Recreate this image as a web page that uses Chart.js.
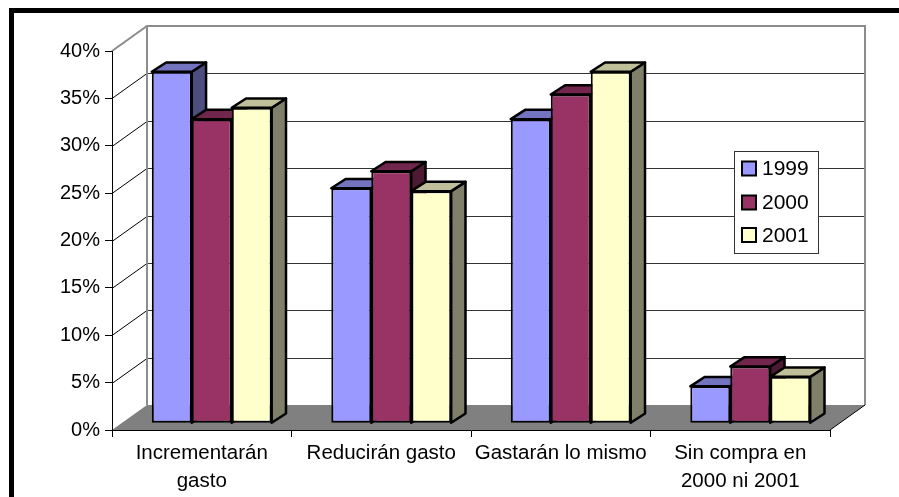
<!DOCTYPE html>
<html>
<head>
<meta charset="utf-8">
<script src="https://cdn.jsdelivr.net/npm/chart.js@4/dist/chart.umd.min.js"></script>
<style>
  html, body { margin: 0; padding: 0; background: #fff; }
  canvas { display: block; }
</style>
</head>
<body>
<canvas id="c" width="899" height="497"></canvas>
<script>
// Categories and yearly shares (percent)
const categories = [['Incrementarán', 'gasto'], 'Reducirán gasto', 'Gastarán lo mismo', ['Sin compra en', '2000 ni 2001']];
const years = ['1999', '2000', '2001'];
const values1999 = [37.1, 24.8, 32.1, 3.9];
const values2000 = [32.1, 26.6, 34.7, 6.0];
const values2001 = [33.3, 24.5, 37.1, 4.9];
const yTicks = [0, 5, 10, 15, 20, 25, 30, 35, 40];

// Face colours: front, top, side
const frontColors = ['#9999FF', '#993366', '#FFFFCC'];
const topColors = ['#7373BF', '#73264D', '#BFBF99'];
const sideColors = ['#4D4D80', '#4D1A33', '#80806A'];

const FONT = "'Liberation Sans', Arial, sans-serif";
const WALL = { dx: 35, dy: -25 };      // depth of the floor / back wall
const BAR_PLANE = { dx: 10, dy: -6.7 }; // where the bar fronts sit in depth
const BAR_DEPTH = { dx: 14.3, dy: -9.3 };

const seriesValues = [values1999, values2000, values2001];

function poly(ctx, pts, fill, stroke, lw) {
  ctx.beginPath();
  ctx.moveTo(pts[0][0], pts[0][1]);
  for (let i = 1; i < pts.length; i++) ctx.lineTo(pts[i][0], pts[i][1]);
  ctx.closePath();
  if (fill) { ctx.fillStyle = fill; ctx.fill(); }
  if (stroke) { ctx.strokeStyle = stroke; ctx.lineWidth = lw; ctx.stroke(); }
}

// Floor, walls and gridlines behind the bars
const wallsPlugin = {
  id: 'walls',
  beforeDraw(chart) {
    const { ctx, chartArea: a, scales: { y } } = chart;
    ctx.save();
    ctx.fillStyle = '#fff';
    ctx.fillRect(0, 0, chart.width, chart.height);

    // floor
    poly(ctx, [[a.left, a.bottom], [a.left + WALL.dx, a.bottom + WALL.dy],
               [a.right + WALL.dx, a.bottom + WALL.dy], [a.right, a.bottom]], '#808080');

    // gridlines on the side wall and the back wall
    ctx.lineWidth = 1;
    y.ticks.forEach(t => {
      if (t.value <= 0 || t.value >= 40) return;
      const py = Math.round(y.getPixelForValue(t.value)) + 0.5;
      ctx.strokeStyle = '#000';
      ctx.beginPath();
      ctx.moveTo(a.left, py);
      ctx.lineTo(a.left + WALL.dx, py + WALL.dy);
      ctx.stroke();
      ctx.strokeStyle = '#333';
      ctx.beginPath();
      ctx.moveTo(a.left + WALL.dx, py + WALL.dy);
      ctx.lineTo(a.right + WALL.dx, py + WALL.dy);
      ctx.stroke();
    });

    // back wall outline
    const topY = y.getPixelForValue(40);
    ctx.strokeStyle = '#8c8c8c';
    ctx.lineWidth = 2;
    ctx.beginPath();
    ctx.moveTo(a.left, topY);
    ctx.lineTo(a.left + WALL.dx, topY + WALL.dy);
    ctx.lineTo(a.right + WALL.dx, topY + WALL.dy);
    ctx.lineTo(a.right + WALL.dx, a.bottom + WALL.dy);
    ctx.moveTo(a.left + WALL.dx, topY + WALL.dy);
    ctx.lineTo(a.left + WALL.dx, a.bottom + WALL.dy);
    ctx.stroke();

    // right edge of the floor
    ctx.strokeStyle = '#000';
    ctx.lineWidth = 1;
    ctx.beginPath();
    ctx.moveTo(a.right, a.bottom);
    ctx.lineTo(a.right + WALL.dx, a.bottom + WALL.dy);
    ctx.stroke();
    ctx.restore();
  }
};

// Bars as boxes: each series is painted left to right (side, top, then the
// library's own front rectangle) so nearer faces cover the hidden ones.
const boxesPlugin = {
  id: 'boxes',
  beforeDatasetsDraw(chart) {
    const ctx = chart.ctx;
    ctx.save();
    ctx.translate(BAR_PLANE.dx, BAR_PLANE.dy);
    ctx.lineJoin = 'round';
    chart.data.datasets.forEach((ds, i) => {
      const meta = chart.getDatasetMeta(i);
      if (!meta.visible) return;
      meta.data.forEach(bar => {
        const { x, y, base, width } = bar.getProps(['x', 'y', 'base', 'width'], true);
        const l = x - width / 2, r = x + width / 2;
        const { dx, dy } = BAR_DEPTH;
        poly(ctx, [[r, y], [r + dx, y + dy], [r + dx, base + dy], [r, base]], sideColors[i], '#000', 2.5);
        poly(ctx, [[l, y], [l + dx, y + dy], [r + dx, y + dy], [r, y]], topColors[i], '#000', 2.5);
        bar.draw(ctx);
      });
    });
    ctx.restore();
  },
  // fronts are already painted above
  beforeDatasetDraw() { return false; }
};

// Legend box and the outer frame
const legendFramePlugin = {
  id: 'legendFrame',
  afterDraw(chart) {
    const ctx = chart.ctx;
    ctx.save();
    const bx = 734.5, by = 151.5, bw = 84, bh = 102;
    ctx.fillStyle = '#fff';
    ctx.fillRect(bx, by, bw, bh);
    ctx.strokeStyle = '#333';
    ctx.lineWidth = 1;
    ctx.strokeRect(bx, by, bw, bh);
    const rows = [168.5, 202.5, 235];
    ctx.font = '21px ' + FONT;
    ctx.textBaseline = 'middle';
    ctx.textAlign = 'left';
    chart.data.datasets.forEach((ds, i) => {
      const cy = rows[i];
      ctx.fillStyle = frontColors[i];
      ctx.fillRect(742, cy - 7, 14, 14);
      ctx.strokeStyle = '#000';
      ctx.lineWidth = 2;
      ctx.strokeRect(742, cy - 7, 14, 14);
      ctx.fillStyle = '#000';
      ctx.fillText(ds.label, 762, cy + 1);
    });
    ctx.fillStyle = '#000';
    ctx.fillRect(9, 8, chart.width - 9, 5);
    ctx.fillRect(9, 8, 5, chart.height - 8);
    ctx.restore();
  }
};

Chart.defaults.font.family = FONT;
Chart.defaults.color = '#000';

new Chart(document.getElementById('c'), {
  type: 'bar',
  data: {
    labels: categories,
    datasets: years.map((yr, i) => ({
      label: yr,
      data: seriesValues[i],
      backgroundColor: frontColors[i],
      borderColor: '#000',
      borderWidth: 2,
      borderSkipped: false,
      barPercentage: 1,
      categoryPercentage: 0.668,
      clip: false
    }))
  },
  options: {
    responsive: false,
    devicePixelRatio: 1,
    animation: false,
    layout: { padding: { left: 0, top: 51, right: 69, bottom: 0 } },
    plugins: { legend: { display: false }, tooltip: { enabled: false } },
    scales: {
      x: {
        afterFit(scale) { scale.height = 67; },
        grid: { display: true, drawOnChartArea: false, drawTicks: true, tickLength: 7, color: '#000', lineWidth: 1, offset: true },
        border: { display: true, color: '#000', width: 1 },
        ticks: { font: { size: 20.5, lineHeight: 1.33 }, padding: 3, maxRotation: 0, autoSkip: false, color: '#000' }
      },
      y: {
        min: 0, max: 40,
        afterFit(scale) { scale.width = 112; },
        afterBuildTicks(scale) { scale.ticks = yTicks.map(v => ({ value: v })); },
        grid: { display: true, drawOnChartArea: false, drawTicks: true, tickLength: 7, color: '#000', lineWidth: 1 },
        border: { display: true, color: '#000', width: 1 },
        ticks: { font: { size: 20 }, padding: 5, color: '#000', callback: v => v + '%' }
      }
    }
  },
  plugins: [wallsPlugin, boxesPlugin, legendFramePlugin]
});
</script>
</body>
</html>
